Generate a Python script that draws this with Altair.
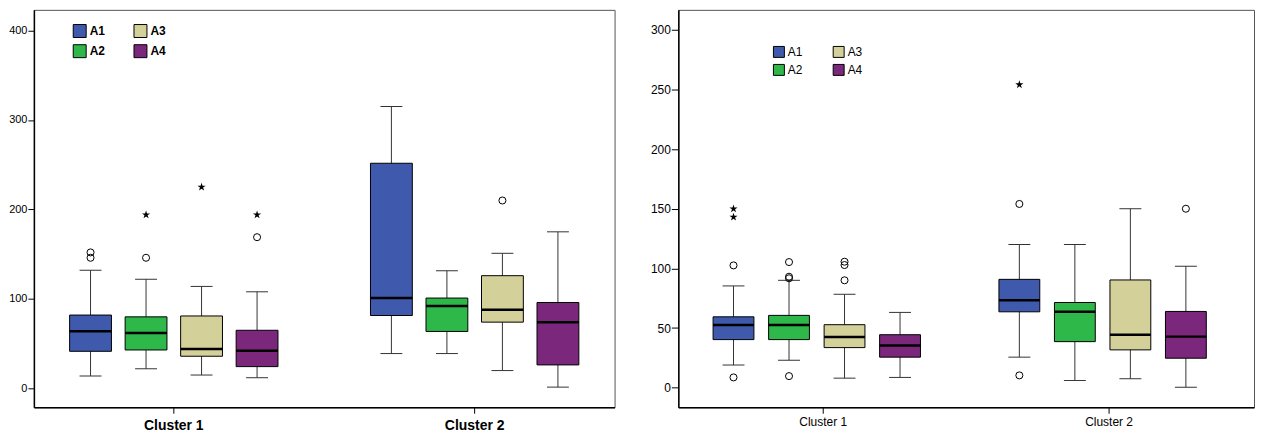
import altair as alt
import pandas as pd

series = ["A1", "A2", "A3", "A4"]
clusters = ["Cluster 1", "Cluster 2"]
colors = {"A1": "#3F59AC", "A2": "#2EB84A", "A3": "#D4D09A", "A4": "#7B287C"}
legend_order = ["A1", "A2", "A3", "A4"]

# Left panel: order C1 A1..A4, C2 A1..A4
p1_lo = [14, 22, 15, 12, 39, 39, 20, 1.5]
p1_q1 = [41.5, 43, 36, 24.4, 81.5, 63.7, 74.1, 26.3]
p1_med = [64, 62, 44, 42, 101, 92, 88, 74]
p1_q3 = [82, 80, 81, 65, 251.6, 101, 126, 96]
p1_hi = [132, 122, 114, 108, 315, 131.5, 151, 175]
p1_circ_cluster = ["Cluster 1", "Cluster 1", "Cluster 1", "Cluster 1", "Cluster 2"]
p1_circ_series = ["A1", "A1", "A2", "A4", "A3"]
p1_circ_value = [152, 146, 146, 169, 210]
p1_star_cluster = ["Cluster 1", "Cluster 1", "Cluster 1"]
p1_star_series = ["A2", "A3", "A4"]
p1_star_value = [194, 225, 194]

# Right panel
p2_lo = [19, 23, 8, 8.6, 25.6, 6, 7.5, 0.3]
p2_q1 = [40.3, 40.3, 33.6, 25.6, 63.6, 38.6, 31.7, 24.7]
p2_med = [52.5, 52.5, 42.5, 35.3, 73.3, 63.6, 44.4, 42.8]
p2_q3 = [59.4, 60.6, 52.8, 44.4, 90.8, 71.4, 90.3, 63.9]
p2_hi = [85.3, 90, 78.3, 63.1, 120, 120, 150, 101.7]
p2_circ_cluster = ["Cluster 1"] * 9 + ["Cluster 2"] * 3
p2_circ_series = ["A1", "A1", "A2", "A2", "A2", "A2", "A3", "A3", "A3", "A1", "A1", "A4"]
p2_circ_value = [102.5, 8.6, 105.3, 93, 91.7, 9.7, 105.6, 102.8, 90, 154, 10.3, 150]
p2_star_cluster = ["Cluster 1", "Cluster 1", "Cluster 2"]
p2_star_series = ["A1", "A1", "A1"]
p2_star_value = [150, 143, 254]

STAR = ("M0,-1L0.2245,-0.309L0.951,-0.309L0.363,0.118L0.588,0.809L0,0.382"
        "L-0.588,0.809L-0.363,0.118L-0.951,-0.309L-0.2245,-0.309Z")


def panel(lo, q1, med, q3, hi, cc, cs, cv, sc, ss, sv, domain, ticks, width,
          pi, po, boxw, capw, xfont, xbold, yfont, ytick, lx, ly, lsym,
          lbold, lcolpad, lrowpad):
    stats = pd.DataFrame({
        "cluster": [c for c in clusters for _ in series],
        "series": series * 2,
        "lo": lo, "q1": q1, "med": med, "q3": q3, "hi": hi,
    })
    circ = pd.DataFrame({"cluster": cc, "series": cs, "value": cv})
    star = pd.DataFrame({"cluster": sc, "series": ss, "value": sv})

    x = alt.X("cluster:N",
              scale=alt.Scale(domain=clusters, paddingInner=pi, paddingOuter=po),
              axis=alt.Axis(title=None, labelAngle=0, labelFontSize=xfont,
                            labelFontWeight="bold" if xbold else "normal",
                            labelColor="black", tickColor="black", tickSize=6,
                            labelPadding=5 if xbold else 3,
                            domainColor="black", domainWidth=1.5))
    xo = alt.XOffset("series:N",
                     scale=alt.Scale(domain=series, paddingInner=0, paddingOuter=0))
    ysc = alt.Scale(domain=domain, nice=False, zero=False)
    yax = alt.Axis(title=None, values=ticks, grid=False, labelFontSize=yfont,
                   labelColor="black", tickColor="black", tickSize=ytick,
                   labelPadding=1, domainColor="black", domainWidth=1.5)

    def Y(f):
        return alt.Y(f, scale=ysc, axis=yax, title=None)

    base = alt.Chart(stats)
    whisk = base.mark_rule(color="#333", strokeWidth=1).encode(
        x=x, xOffset=xo, y=Y("lo:Q"), y2="hi:Q")
    box = base.mark_bar(size=boxw, stroke="black", strokeWidth=1, opacity=1).encode(
        x=x, xOffset=xo, y=Y("q1:Q"), y2="q3:Q",
        color=alt.Color("series:N",
                        scale=alt.Scale(domain=legend_order,
                                        range=[colors[s] for s in legend_order]),
                        legend=alt.Legend(
                            title=None, orient="none", legendX=lx, legendY=ly,
                            columns=2, columnPadding=lcolpad, rowPadding=lrowpad,
                            symbolType="square", symbolSize=lsym * lsym,
                            symbolStrokeColor="black", symbolStrokeWidth=1,
                            symbolOpacity=1, labelFontSize=12,
                            labelFont="Liberation Sans",
                            labelFontWeight="bold" if lbold else "normal",
                            labelColor="black", labelOffset=3)))
    medt = base.mark_tick(size=boxw, thickness=2.5, color="black", opacity=1).encode(
        x=x, xOffset=xo, y=Y("med:Q"))
    caplo = base.mark_tick(size=capw, thickness=1, color="#333", opacity=1).encode(
        x=x, xOffset=xo, y=Y("lo:Q"))
    caphi = base.mark_tick(size=capw, thickness=1, color="#333", opacity=1).encode(
        x=x, xOffset=xo, y=Y("hi:Q"))
    pts = alt.Chart(circ).mark_point(shape="circle", filled=False, color="black",
                                     size=50, strokeWidth=1, opacity=1).encode(
        x=x, xOffset=xo, y=Y("value:Q"))
    stars = alt.Chart(star).mark_point(shape=STAR, filled=True, color="black",
                                       size=75, opacity=1).encode(
        x=x, xOffset=xo, y=Y("value:Q"))
    return alt.layer(whisk, box, medt, caplo, caphi, pts, stars).properties(
        width=width, height=399)


left = panel(p1_lo, p1_q1, p1_med, p1_q3, p1_hi,
             p1_circ_cluster, p1_circ_series, p1_circ_value,
             p1_star_cluster, p1_star_series, p1_star_value,
             [-21, 423], [0, 100, 200, 300, 400], 583, 0.262, 0.096, 42, 22,
             14, True, 11, 6, 39, 14, 13, True, 26, 2.5)
right = panel(p2_lo, p2_q1, p2_med, p2_q3, p2_hi,
              p2_circ_cluster, p2_circ_series, p2_circ_value,
              p2_star_cluster, p2_star_series, p2_star_value,
              [-16.4, 316.7], [0, 50, 100, 150, 200, 250, 300], 578, 0.178, 0.096,
              41, 22, 12, False, 12, 7, 95, 36, 11, False, 28, 2.3)

chart = alt.hconcat(left, right, spacing=34).resolve_scale(
    color="independent", x="independent", y="independent"
).properties(
    padding={"left": 0, "top": 0, "right": 0, "bottom": 0}
).configure(font="Liberation Sans", background="white").configure_view(
    stroke="#555", strokeWidth=1)

chart.save("out.html", embed_options={"renderer": "svg", "actions": False})
